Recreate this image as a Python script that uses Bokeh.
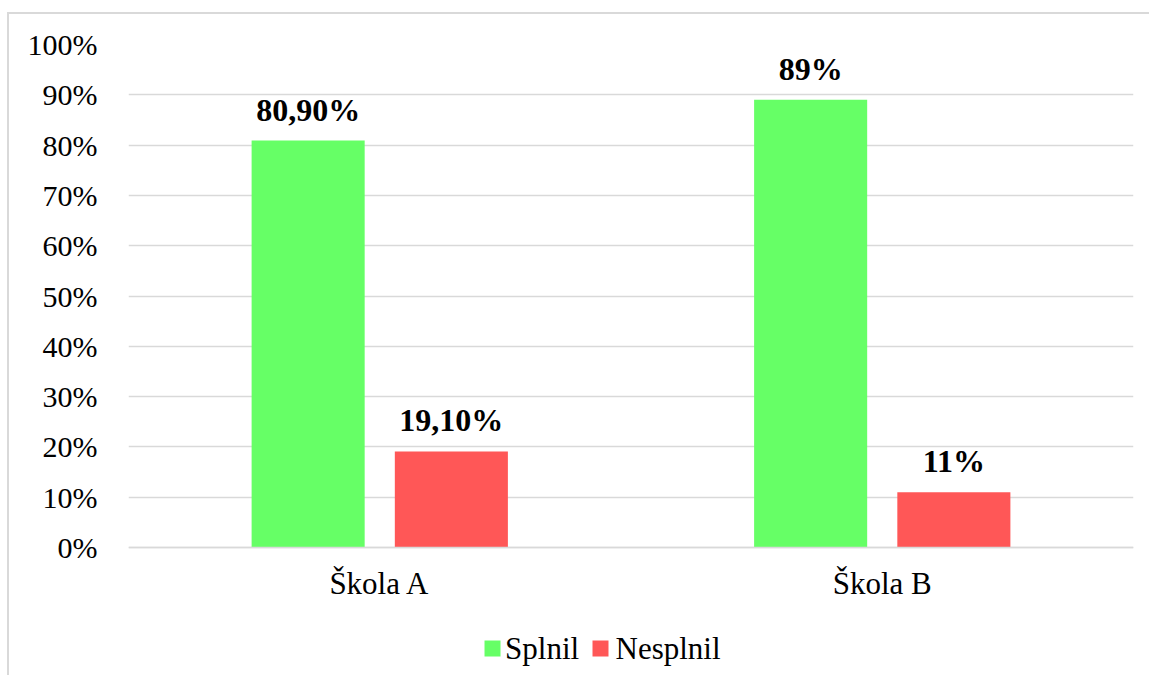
from bokeh.plotting import figure
from bokeh.models import (ColumnDataSource, FactorRange, FixedTicker, NumeralTickFormatter, Range1d)
from bokeh.transform import dodge
from bokeh.core.properties import value
from bokeh.embed import file_html
from bokeh.resources import INLINE

categories = ["Škola A", "Škola B"]
splnil = [0.809, 0.89]
nesplnil = [0.191, 0.11]
splnil_labels = ["80,90%", "89%"]
nesplnil_labels = ["19,10%", "11%"]
series_names = ["Splnil", "Nesplnil"]
y_ticks = [0, 0.1, 0.2, 0.3, 0.4, 0.5, 0.6, 0.7, 0.8, 0.9, 1.0]

GREEN = "#66ff66"
RED = "#ff5757"
series_colors = [GREEN, RED]
FONT = "Liberation Serif"

src = ColumnDataSource(dict(cat=categories, s=splnil, n=nesplnil,
                            sl=splnil_labels, nl=nesplnil_labels))

# plot frame extends below 0 so that category labels and legend live inside it
p = figure(x_range=FactorRange(*categories, range_padding=0), y_range=Range1d(-128 / 503, 1.0),
           frame_width=1005, frame_height=631,
           min_border_left=119, min_border_right=16, min_border_top=30, min_border_bottom=0,
           output_backend="svg", toolbar_location=None)
# light grey outer chart border (top / left visible in the reference)
p.styles = {"margin-left": "7px", "margin-top": "12px",
            "border-top": "2px solid #d9d9d9", "border-left": "2px solid #d9d9d9"}
p.outline_line_color = None
p.background_fill_color = "white"
p.border_fill_color = "white"

p.vbar(x=dodge("cat", -0.1425, range=p.x_range), top="s", width=0.225, source=src,
       fill_color=GREEN, line_color=None)
p.vbar(x=dodge("cat", 0.1425, range=p.x_range), top="n", width=0.225, source=src,
       fill_color=RED, line_color=None)

p.text(x=dodge("cat", -0.1425, range=p.x_range), y="s", text="sl", source=src,
       text_font=value(FONT), text_font_size="32px", text_font_style="bold",
       text_align="center", text_baseline="alphabetic", y_offset=-31, text_color="black")
p.text(x=dodge("cat", 0.1425, range=p.x_range), y="n", text="nl", source=src,
       text_font=value(FONT), text_font_size="32px", text_font_style="bold",
       text_align="center", text_baseline="alphabetic", y_offset=-31, text_color="black")

p.xgrid.grid_line_color = None
p.ygrid.grid_line_color = "#d9d9d9"
p.ygrid.grid_line_width = 1.5
p.ygrid.ticker = FixedTicker(ticks=y_ticks)

p.yaxis.ticker = FixedTicker(ticks=y_ticks)
p.yaxis.formatter = NumeralTickFormatter(format="0%")
p.yaxis.axis_line_color = None
p.yaxis.major_tick_line_color = None
p.yaxis.minor_tick_line_color = None
p.yaxis.major_label_text_font = FONT
p.yaxis.major_label_text_font_size = "30px"
p.yaxis.major_label_text_color = "black"
p.yaxis.major_label_standoff = 25

p.xaxis.fixed_location = 0
p.xaxis.axis_line_color = "#d9d9d9"
p.xaxis.axis_line_width = 1.5
p.xaxis.major_tick_line_color = None
p.xaxis.minor_tick_line_color = None
p.xaxis.major_label_text_font = FONT
p.xaxis.major_label_text_font_size = "31px"
p.xaxis.major_label_text_color = "black"
p.xaxis.major_label_standoff = 12

# legend (bottom centre), drawn as glyphs so the serif font is honoured
legend_y = -0.2008               # vertical position of the legend row (below the axis)
legend_square_x = [0.7244, 0.9393]  # square centres (in category-axis units)
legend_text_x = [0.7493, 0.9692]    # label starts
leg = ColumnDataSource(dict(sx=legend_square_x, tx=legend_text_x, y=[legend_y, legend_y],
                            name=series_names, color=series_colors))
p.rect(x="sx", y="y", width=16, height=16, width_units="screen", height_units="screen",
       fill_color="color", line_color=None, source=leg)
p.text(x="tx", y="y", text="name", source=leg, text_font=value(FONT), text_font_size="31px",
       text_align="left", text_baseline="middle", text_color="black")

open("out.html", "w").write(file_html(p, INLINE))
